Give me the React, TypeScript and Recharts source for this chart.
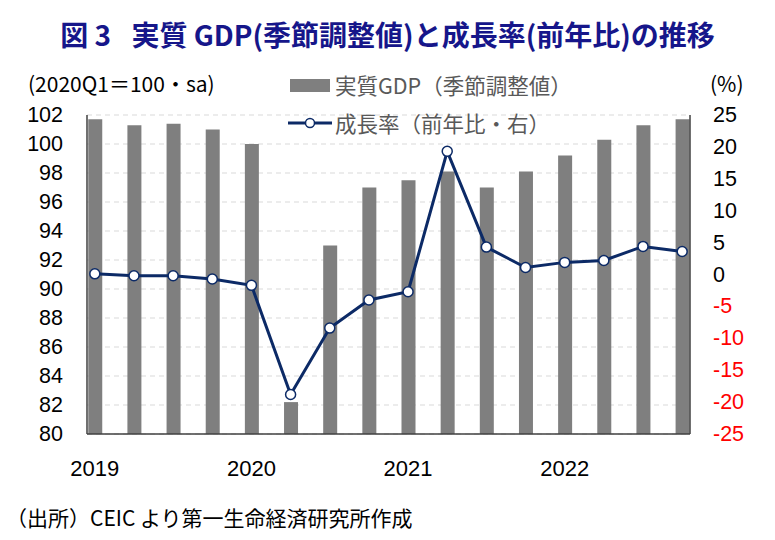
import React from "react";
import { ComposedChart, Bar, Line, XAxis, YAxis, CartesianGrid } from "recharts";

// Quarterly real GDP (seasonally adjusted, 2020Q1 = 100) and YoY growth rate (%)
const quarters = [
  "2019Q1", "2019Q2", "2019Q3", "2019Q4",
  "2020Q1", "2020Q2", "2020Q3", "2020Q4",
  "2021Q1", "2021Q2", "2021Q3", "2021Q4",
  "2022Q1", "2022Q2", "2022Q3", "2022Q4",
];
const realGdp = [101.7, 101.3, 101.4, 101.0, 100.0, 82.2, 93.0, 97.0, 97.5, 98.1, 97.0, 98.1, 99.2, 100.3, 101.3, 101.7];
const growthYoY = [0.1, -0.2, -0.2, -0.7, -1.7, -18.8, -8.4, -4.0, -2.7, 19.3, 4.3, 1.1, 1.9, 2.2, 4.4, 3.6];
const leftTicks = [80, 82, 84, 86, 88, 90, 92, 94, 96, 98, 100, 102];
const rightTicks = [-25, -20, -15, -10, -5, 0, 5, 10, 15, 20, 25];

const titleText = "図 3\u2002 実質 GDP(季節調整値)と成長率(前年比)の推移";
const leftUnit = "(2020Q1＝100・sa)";
const rightUnit = "(%)";
const gdpLegend = "実質GDP（季節調整値）";
const growthLegend = "成長率（前年比・右）";
const sourceNote = "（出所）CEIC より第一生命経済研究所作成";

const data = quarters.map((q, i) => ({ idx: i, quarter: q, gdp: realGdp[i], growth: growthYoY[i] }));
const yearTicks = data.filter((d) => d.quarter.endsWith("Q1")).map((d) => d.idx);

const NAVY = "#0c2a66";
const BAR = "#7f7f7f";
const AXIS = "#404040";
const NUM_FONT = "'Liberation Sans', Arial, sans-serif";
const JP_FONT = "'Noto Sans CJK JP', 'Noto Sans', sans-serif";
const TICK_SIZE = 21.5;

const LeftTick = (props: any) => {
  const { x, y, payload } = props;
  return (
    <text x={x} y={y} textAnchor="end" dominantBaseline="central" fontFamily={NUM_FONT} fontSize={TICK_SIZE} fill="#000">
      {payload.value}
    </text>
  );
};

const RightTick = (props: any) => {
  const { x, y, payload } = props;
  return (
    <text x={x} y={y} textAnchor="start" dominantBaseline="central" fontFamily={NUM_FONT} fontSize={TICK_SIZE} fill={payload.value < 0 ? "#ff0000" : "#000"}>
      {payload.value}
    </text>
  );
};

const YearTick = (props: any) => {
  const { x, y, payload } = props;
  return (
    <text x={x} y={y} textAnchor="middle" dominantBaseline="central" fontFamily={NUM_FONT} fontSize={22} fill="#000">
      {quarters[payload.value].slice(0, 4)}
    </text>
  );
};

const textRow = (top: number, left: number, size: number, color: string) => ({
  position: "absolute" as const,
  left,
  top,
  height: 26,
  lineHeight: "26px",
  display: "flex",
  alignItems: "center",
  fontFamily: JP_FONT,
  fontSize: size,
  color,
  whiteSpace: "nowrap" as const,
});

export default function App() {
  return (
    <div style={{ position: "absolute", left: 0, top: 0, width: 775, height: 540, background: "#fff" }}>
      <div
        style={{
          position: "absolute", left: 0, top: 14, width: 775, textAlign: "center",
          fontFamily: JP_FONT, fontWeight: 700, fontSize: 28, color: "#16168a", whiteSpace: "pre",
        }}
      >
        {titleText}
      </div>
      <div style={textRow(70, 28, 21, "#000")}>{leftUnit}</div>
      <div style={textRow(70, 710, 21, "#000")}>{rightUnit}</div>
      <ComposedChart
        width={775}
        height={540}
        data={data}
        margin={{ top: 115, right: 25, bottom: 46, left: 27 }}
      >
        <CartesianGrid yAxisId="left" vertical={false} stroke="#d9d9d9" strokeDasharray="5 4" />
        <XAxis
          dataKey="idx"
          type="number"
          domain={[-0.2, 15.2]}
          ticks={yearTicks}
          tick={<YearTick />}
          tickLine={false}
          tickSize={0}
          tickMargin={34}
          height={60}
          axisLine={{ stroke: AXIS, strokeWidth: 1.5 }}
          allowDataOverflow
        />
        <YAxis
          yAxisId="left"
          orientation="left"
          domain={[80, 102]}
          ticks={leftTicks}
          interval={0}
          width={60}
          tick={<LeftTick />}
          tickLine={false}
          tickSize={0}
          tickMargin={24}
          axisLine={{ stroke: AXIS, strokeWidth: 1.5 }}
          allowDataOverflow
        />
        <YAxis
          yAxisId="right"
          orientation="right"
          domain={[-25, 25]}
          ticks={rightTicks}
          interval={0}
          width={60}
          tick={<RightTick />}
          tickLine={false}
          tickSize={0}
          tickMargin={23}
          axisLine={{ stroke: AXIS, strokeWidth: 1.5 }}
          allowDataOverflow
        />
        <Bar yAxisId="left" dataKey="gdp" fill={BAR} barSize={14} isAnimationActive={false} />
        <Line
          yAxisId="right"
          dataKey="growth"
          stroke={NAVY}
          strokeWidth={3}
          dot={{ r: 5, fill: "#fff", stroke: NAVY, strokeWidth: 1.5 }}
          isAnimationActive={false}
        />
      </ComposedChart>
      {/* legend */}
      <div style={textRow(72, 290, 21.5, "#595959")}>
        <span style={{ display: "inline-block", width: 40, height: 13, background: BAR, marginRight: 5 }} />
        {gdpLegend}
      </div>
      <div style={textRow(110, 288, 21.5, "#595959")}>
        <svg width={44} height={14} style={{ marginRight: 3 }}>
          <line x1={0} y1={7} x2={44} y2={7} stroke={NAVY} strokeWidth={3} />
          <circle cx={22} cy={7} r={4.5} fill="#fff" stroke={NAVY} strokeWidth={1.5} />
        </svg>
        {growthLegend}
      </div>
      <div style={textRow(504, 6, 21, "#000")}>{sourceNote}</div>
    </div>
  );
}
